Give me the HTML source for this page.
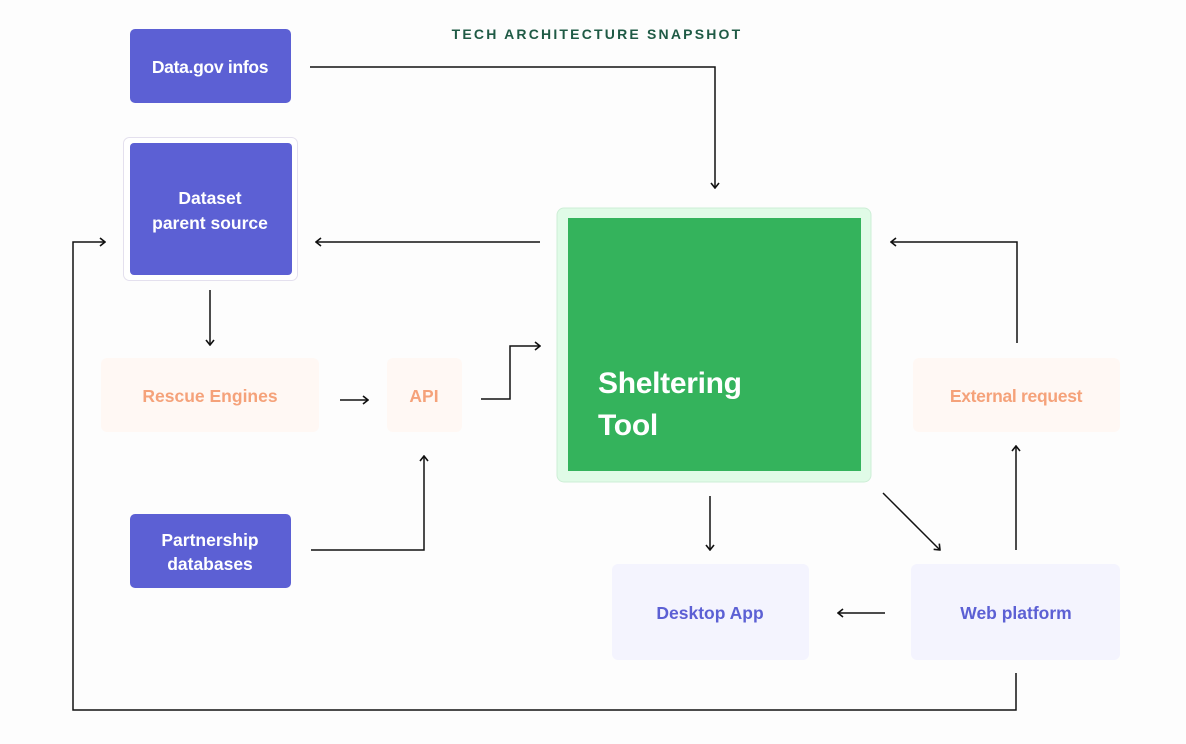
<!DOCTYPE html>
<html><head><meta charset="utf-8"><style>
html,body{margin:0;padding:0;background:#fdfdfd;}
svg{display:block;font-family:"Liberation Sans",sans-serif;font-weight:bold;}
</style></head><body>
<svg width="1186" height="744" viewBox="0 0 1186 744" xmlns="http://www.w3.org/2000/svg">
<defs>
<marker id="a" viewBox="0 0 10 10" refX="9" refY="5" markerWidth="10" markerHeight="10" orient="auto-start-reverse" markerUnits="userSpaceOnUse">
<path d="M4,1 L9,5 L4,9" fill="none" stroke="#111" stroke-width="1.6"/>
</marker>
</defs>
<rect width="1186" height="744" fill="#fdfdfd"/>
<text x="597" y="39" text-anchor="middle" font-size="14" fill="#1f5a45" letter-spacing="2.2">TECH ARCHITECTURE SNAPSHOT</text>

<rect x="130" y="29" width="161" height="74" rx="5" fill="#5c60d4"/>
<text x="210" y="73" text-anchor="middle" font-size="17.5" fill="#fff" letter-spacing="-0.3">Data.gov infos</text>

<rect x="123.5" y="137.5" width="174" height="143" rx="6" fill="#fff" stroke="#e4e0ee"/>
<rect x="130" y="143" width="162" height="132" rx="4" fill="#5c60d4"/>
<text x="210" y="204" text-anchor="middle" font-size="17.5" fill="#fff">Dataset</text>
<text x="210" y="229" text-anchor="middle" font-size="17.5" fill="#fff">parent source</text>

<rect x="101" y="358" width="218" height="74" rx="6" fill="#fff8f4"/>
<text x="210" y="402" text-anchor="middle" font-size="17.5" fill="#f5a27a">Rescue Engines</text>
<rect x="387" y="358" width="75" height="74" rx="6" fill="#fff8f4"/>
<text x="424" y="402" text-anchor="middle" font-size="17.5" fill="#f5a27a">API</text>

<rect x="130" y="514" width="161" height="74" rx="5" fill="#5c60d4"/>
<text x="210" y="546" text-anchor="middle" font-size="17.5" fill="#fff">Partnership</text>
<text x="210" y="570" text-anchor="middle" font-size="17.5" fill="#fff">databases</text>

<rect x="557" y="208" width="314" height="274" rx="7" fill="#e0fbe7" stroke="#cdeed6"/>
<rect x="568" y="218" width="293" height="253" fill="#34b35c"/>
<text x="598" y="393" font-size="30" fill="#fff" letter-spacing="-0.3">Sheltering</text>
<text x="598" y="435" font-size="30" fill="#fff" letter-spacing="-0.3">Tool</text>

<rect x="913" y="358" width="207" height="74" rx="6" fill="#fff8f4"/>
<text x="1016" y="402" text-anchor="middle" font-size="17.5" fill="#f5a27a" letter-spacing="-0.3">External request</text>

<rect x="612" y="564" width="197" height="96" rx="6" fill="#f4f4fe"/>
<text x="710" y="619" text-anchor="middle" font-size="17.5" fill="#5c60d4">Desktop App</text>
<rect x="911" y="564" width="209" height="96" rx="6" fill="#f4f4fe"/>
<text x="1016" y="619" text-anchor="middle" font-size="17.5" fill="#5c60d4">Web platform</text>

<g fill="none" stroke="#111" stroke-width="1.5" marker-end="url(#a)">
<path d="M310,67 H715 V188"/>
<path d="M540,242 H316"/>
<path d="M210,290 V345"/>
<path d="M340,400 H368"/>
<path d="M481,399 H510 V346 H540"/>
<path d="M311,550 H424 V456"/>
<path d="M1017,343 V242 H891"/>
<path d="M710,496 V550"/>
<path d="M883,493 L940,550"/>
<path d="M1016,550 V446"/>
<path d="M885,613 H838"/>
<path d="M1016,673 V710 H73 V242 H105"/>
</g>
</svg>
</body></html>
